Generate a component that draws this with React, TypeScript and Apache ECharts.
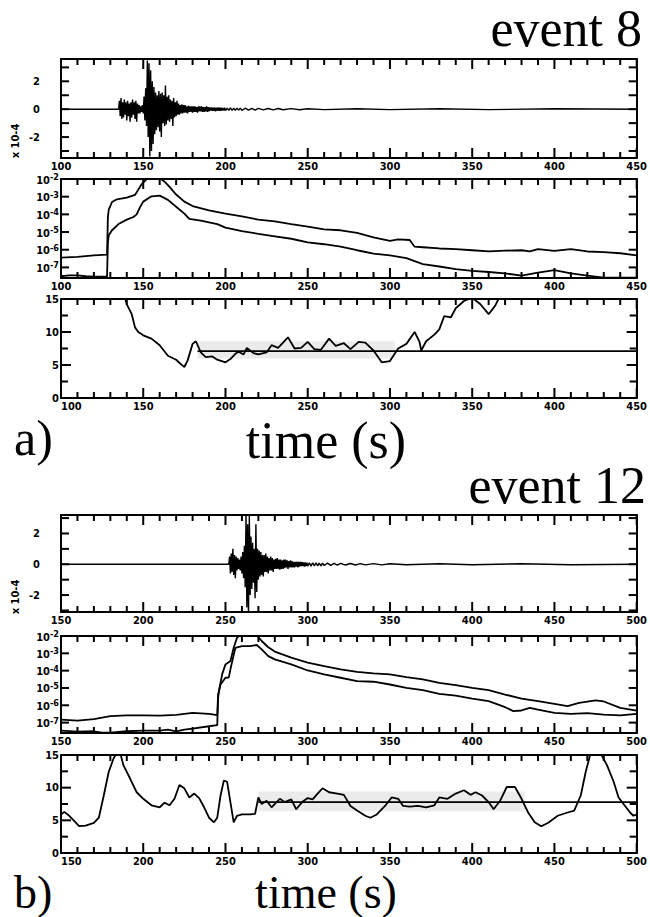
import React, { useEffect, useRef } from "react";
import * as echarts from "echarts";

// ---------- DATA ----------
// event 8: seismogram (time s, amplitude x1e-4)
const seisA: number[][] = [
  [100, 0], [135, 0], [135.5, 0.6], [136, -0.5], [136.5, 0.8], [137, -0.7], [137.5, 0.5], [138, -0.6], [138.5, 0.7], [139, -0.4],
  [139.5, 0.5], [140, -0.8], [140.5, 0.6], [141, -0.5], [141.5, 0.4], [142, -0.9], [142.5, 0.5], [143, -0.6], [143.5, 0.7], [144, -0.4],
  [144.5, 0.5], [145, -0.7], [145.5, 0.6], [146, -0.9], [146.5, 0.4], [147, -0.3], [147.5, 0.3], [148, -0.3], [148.5, 0.2], [149, -0.2],
  [149.5, 0.3], [150, -0.3], [150.5, 0.9], [151, -0.8], [151.5, 1.5], [152, -1.2], [152.5, 3.5], [153, -2.0], [153.5, 3.3], [154, -3.4],
  [154.5, 2.8], [155, -3.0], [155.5, 2.0], [156, -2.5], [156.5, 1.6], [157, -1.8], [157.5, 1.2], [158, -1.5], [158.5, 1.0], [159, -1.3],
  [159.5, 1.3], [160, -1.6], [160.5, 1.1], [161, -2.0], [161.5, 1.2], [162, -1.0], [162.5, 1.0], [163, -1.2], [163.5, 1.7], [164, -1.1],
  [164.5, 0.9], [165, -0.8], [165.5, 1.0], [166, -0.9], [166.5, 0.7], [167, -0.7], [167.5, 0.6], [168, -1.2], [168.5, 0.8], [169, -0.6],
  [169.5, 0.5], [170, -0.5], [170.5, 0.6], [171, -0.4], [171.5, 0.4], [172, -0.4], [172.5, 0.3], [173, -0.3], [173.5, 0.35], [174, -0.3],
  [174.5, 0.3], [175, -0.25], [175.5, 0.3], [176, -0.25], [176.5, 0.2], [177, -0.3], [177.5, 0.25], [178, -0.2], [178.5, 0.2], [179, -0.2],
  [179.5, 0.2], [180, -0.25], [180.5, 0.2], [181, -0.2], [181.5, 0.2], [182, -0.2], [182.5, 0.15], [183, -0.25], [183.5, 0.2], [184, -0.15],
  [184.5, 0.2], [185, -0.15], [185.5, 0.2], [186, -0.2], [186.5, 0.15], [187, -0.2], [187.5, 0.15], [188, -0.15], [188.5, 0.2], [189, -0.2],
  [189.5, 0.15], [190, -0.15], [190.5, 0.12], [191, -0.1], [191.5, 0.12], [192, -0.12], [192.5, 0.1], [193, -0.12], [193.5, 0.12], [194, -0.15],
  [194.5, 0.1], [195, -0.1], [195.5, 0.12], [196, -0.12], [196.5, 0.1], [197, -0.12], [197.5, 0.1], [198, -0.1], [198.5, 0.08], [199, -0.1],
  [199.5, 0.1], [200, -0.1], [201, 0.08], [202, -0.08], [203, 0.1], [204, -0.08], [205, 0.07], [206, -0.08], [207, 0.08], [208, -0.07],
  [209, 0.08], [210, -0.08], [212, 0.07], [214, -0.07], [216, 0.06], [218, -0.06], [220, 0.06], [223, -0.05], [226, 0.05], [229, -0.05],
  [232, 0.05], [235, -0.04], [240, 0.04], [245, -0.04], [250, 0.03], [260, -0.03], [280, 0.03], [300, -0.03], [330, 0.03], [360, -0.03],
  [400, 0.03], [450, 0],
];
// event 8: envelopes (time s, log10 value)
const envAUpper: number[][] = [
  [100, -6.45], [110, -6.4], [120, -6.32], [128, -6.28], [128.5, -4.2], [129, -3.75], [131, -3.3], [134, -3.15], [140, -3.05],
  [145, -2.9], [147, -2.6], [149, -2.3], [151, -2.1], [153, -1.95], [160, -1.95], [163, -2.15], [166, -2.45], [170, -2.88],
  [175, -3.28], [180, -3.53], [190, -3.77], [200, -3.96], [210, -4.12], [220, -4.3], [230, -4.4], [240, -4.55], [250, -4.69],
  [260, -4.85], [270, -4.9], [280, -5.05], [290, -5.3], [300, -5.5], [305, -5.42], [312, -5.45], [315, -5.83], [320, -5.86],
  [330, -5.93], [340, -5.97], [350, -6.03], [360, -6.09], [370, -6.05], [380, -6.03], [385, -6.1], [390, -5.97], [400, -6.06],
  [410, -5.97], [420, -6.1], [430, -6.14], [440, -6.2], [450, -6.32],
];
const envALower: number[][] = [
  [100, -7.5], [105, -7.45], [110, -7.45], [115, -7.5], [120, -7.52], [128, -7.52], [128.5, -5.6], [129, -5.2], [131, -4.9],
  [135, -4.55], [140, -4.3], [144, -4.15], [146, -4.0], [148, -3.6], [150, -3.28], [155, -2.98], [160, -2.94], [165, -3.18],
  [170, -3.57], [175, -3.96], [178, -4.26], [185, -4.36], [195, -4.55], [200, -4.75], [210, -4.95], [220, -5.1], [230, -5.24],
  [240, -5.38], [250, -5.58], [260, -5.69], [270, -5.83], [280, -6.03], [290, -6.22], [300, -6.32], [310, -6.48], [320, -6.81],
  [330, -6.95], [340, -7.1], [350, -7.2], [360, -7.26], [370, -7.34], [380, -7.46], [390, -7.3], [400, -7.15], [410, -7.34],
  [420, -7.46], [430, -7.58], [450, -7.58],
];
// event 8: lower panel curve
const curveA: number[][] = [
  [138, 16], [140, 14.2], [141, 13.7], [143, 12.7], [145, 10.7], [147, 10.0], [150, 9.5], [155, 9.0], [160, 8.0], [165, 6.4],
  [170, 5.8], [173, 5.1], [175, 4.7], [177, 5.7], [180, 8.2], [182, 8.6], [185, 6.9], [188, 6.2], [192, 6.3], [195, 5.8],
  [200, 5.4], [203, 5.9], [206, 6.7], [208, 7.0], [211, 6.6], [213, 7.6], [217, 6.8], [220, 6.6], [225, 6.9], [228, 8.0],
  [232, 7.6], [238, 9.2], [242, 7.5], [246, 7.6], [250, 8.5], [254, 7.4], [258, 7.3], [263, 9.0], [267, 7.9], [272, 8.3],
  [276, 7.4], [281, 8.5], [285, 8.4], [290, 7.2], [295, 5.4], [300, 5.6], [305, 7.5], [310, 8.2], [315, 10.0], [318, 8.5],
  [319, 7.2], [322, 8.6], [327, 9.6], [330, 10.4], [333, 12.4], [337, 12.2], [340, 13.6], [345, 14.7], [350, 15.2], [355, 14.2],
  [360, 12.7], [364, 14.0], [368, 16],
];
const refA: number[][] = [[183, 7.1], [450, 7.1]];
const bandAX = [183, 303];
const bandAY = [6.0, 8.6];

// event 12
const seisB: number[][] = [
  [150, 0], [252, 0], [252.5, 0.5], [253, -0.6], [253.5, 0.7], [254, -0.5], [254.5, 1.0], [255, -0.7], [255.5, 0.6], [256, -0.9],
  [256.5, 0.5], [257, -0.4], [257.5, 0.4], [258, -0.3], [258.5, 0.3], [259, -0.4], [259.5, 0.5], [260, -0.6], [260.5, 0.8], [261, -0.9],
  [261.5, 1.2], [262, -1.5], [262.5, 3.3], [263, -2.8], [263.5, 2.6], [264, -3.4], [264.5, 3.2], [265, -2.0], [265.5, 1.8], [266, -1.6],
  [266.5, 1.4], [267, -1.2], [267.5, 1.0], [268, -2.2], [268.5, 2.6], [269, -1.8], [269.5, 1.0], [270, -1.0], [270.5, 0.9], [271, -0.8],
  [271.5, 0.8], [272, -0.7], [272.5, 0.6], [273, -0.8], [273.5, 0.6], [274, -0.5], [274.5, 0.7], [275, -0.5], [275.5, 0.5], [276, -0.6],
  [276.5, 0.4], [277, -0.4], [277.5, 0.5], [278, -0.4], [278.5, 0.4], [279, -0.5], [279.5, 0.3], [280, -0.3], [280.5, 0.35], [281, -0.3],
  [281.5, 0.4], [282, -0.3], [282.5, 0.3], [283, -0.35], [283.5, 0.3], [284, -0.3], [284.5, 0.25], [285, -0.3], [285.5, 0.3], [286, -0.25],
  [286.5, 0.3], [287, -0.2], [287.5, 0.25], [288, -0.3], [288.5, 0.2], [289, -0.2], [289.5, 0.25], [290, -0.2], [290.5, 0.2], [291, -0.2],
  [291.5, 0.15], [292, -0.2], [292.5, 0.15], [293, -0.15], [293.5, 0.18], [294, -0.2], [294.5, 0.15], [295, -0.15], [295.5, 0.15], [296, -0.12],
  [296.5, 0.15], [297, -0.12], [297.5, 0.12], [298, -0.15], [298.5, 0.12], [299, -0.12], [299.5, 0.1], [300, -0.12], [301, 0.1], [302, -0.12],
  [303, 0.1], [304, -0.1], [305, 0.1], [306, -0.1], [307, 0.08], [308, -0.1], [309, 0.08], [310, -0.08], [312, 0.07], [314, -0.07],
  [316, 0.06], [318, -0.06], [320, 0.06], [323, -0.05], [326, 0.05], [329, -0.05], [332, 0.04], [335, -0.04], [340, 0.04], [345, -0.04],
  [350, 0.03], [360, -0.03], [380, 0.03], [400, -0.03], [430, 0.03], [460, -0.03], [500, 0],
];
const envBUpper: number[][] = [
  [150, -6.83], [160, -6.88], [170, -6.8], [180, -6.63], [190, -6.58], [200, -6.58], [210, -6.6], [220, -6.55], [230, -6.44],
  [240, -6.5], [245, -6.57], [245.5, -5.4], [246, -5.19], [248, -4.2], [250, -3.64], [253, -3.45], [255, -2.68], [257, -2.1],
  [259, -1.95], [269, -1.95], [272, -2.29], [276, -2.65], [280, -2.9], [290, -3.25], [300, -3.54], [310, -3.74], [320, -3.93],
  [330, -4.07], [340, -4.16], [350, -4.22], [360, -4.37], [370, -4.51], [380, -4.7], [390, -4.84], [400, -4.99], [410, -5.13],
  [420, -5.38], [430, -5.61], [440, -5.76], [450, -5.92], [458, -6.05], [465, -5.86], [475, -5.72], [480, -5.78], [490, -6.15],
  [500, -6.31],
];
const envBLower: number[][] = [
  [150, -7.46], [160, -7.52], [170, -7.5], [175, -7.58], [180, -7.58], [190, -7.5], [200, -7.46], [210, -7.46], [215, -7.4],
  [220, -7.5], [225, -7.4], [230, -7.35], [240, -7.21], [245, -7.15], [245.5, -5.6], [246, -5.19], [247, -4.8], [250, -4.41],
  [252, -4.4], [253, -3.93], [254, -3.5], [256, -2.68], [260, -2.58], [265, -2.58], [269, -2.52], [272, -2.77], [276, -3.16],
  [280, -3.35], [290, -3.64], [300, -3.99], [310, -4.22], [320, -4.41], [330, -4.61], [340, -4.64], [350, -4.8], [360, -4.99],
  [370, -5.13], [380, -5.34], [390, -5.44], [400, -5.61], [410, -5.76], [420, -6.11], [425, -6.34], [430, -6.3], [435, -6.15],
  [440, -6.25], [450, -6.44], [460, -6.5], [470, -6.45], [480, -6.54], [490, -6.58], [500, -6.5],
];
const curveB: number[][] = [
  [150, 5.9], [152, 6.3], [155, 5.7], [158, 4.9], [161, 4.1], [165, 4.2], [170, 4.6], [173, 5.4], [176, 8.8], [179, 12.4],
  [182, 14.5], [184, 15.3], [186, 15.3], [188, 13.4], [192, 11.4], [196, 9.3], [200, 8.3], [205, 7.3], [210, 7.0], [213, 7.7],
  [216, 7.3], [219, 8.3], [222, 10.4], [225, 9.9], [228, 8.5], [231, 9.1], [234, 8.4], [237, 7.0], [240, 5.4], [243, 4.7],
  [245, 5.4], [247, 8.8], [249, 11.1], [251, 10.9], [253, 7.8], [255, 4.7], [257, 5.7], [260, 5.9], [265, 5.9], [268, 6.0],
  [270, 8.5], [272, 7.5], [275, 8.0], [278, 7.0], [280, 7.5], [283, 8.3], [286, 7.8], [290, 8.2], [293, 6.7], [297, 7.9],
  [300, 8.4], [303, 8.2], [306, 9.1], [309, 9.9], [313, 9.3], [318, 9.1], [322, 8.9], [326, 7.2], [330, 6.5], [335, 5.7],
  [338, 5.4], [342, 5.9], [347, 7.2], [351, 8.5], [355, 8.3], [358, 7.2], [362, 7.1], [367, 7.2], [372, 7.0], [377, 7.3],
  [380, 8.5], [385, 8.3], [390, 9.1], [395, 9.6], [399, 8.9], [402, 9.3], [406, 8.8], [410, 7.8], [413, 6.7], [417, 8.0],
  [421, 10.1], [426, 10.1], [430, 8.3], [434, 6.2], [438, 4.7], [442, 4.1], [446, 4.6], [452, 5.7], [458, 6.2], [462, 6.5],
  [466, 8.8], [469, 12.4], [472, 15.3], [478, 15.3], [482, 13.4], [486, 10.9], [489, 8.5], [492, 7.5], [496, 6.2], [498, 5.7],
  [500, 5.9],
];
const refB: number[][] = [[270, 7.8], [500, 7.8]];
const bandBX = [270, 432];
const bandBY = [6.4, 9.4];

const xRangeA = [100, 450];
const xRangeB = [150, 500];
const seisTickLabels = [-2, 0, 2];

// tick positions (drawn through the axes' scales)
const xTicksA = [100, 110, 120, 130, 140, 150, 160, 170, 180, 190, 200, 210, 220, 230, 240, 250, 260, 270, 280, 290, 300,
  310, 320, 330, 340, 350, 360, 370, 380, 390, 400, 410, 420, 430, 440, 450];
const xTicksB = [150, 160, 170, 180, 190, 200, 210, 220, 230, 240, 250, 260, 270, 280, 290, 300, 310, 320, 330, 340, 350,
  360, 370, 380, 390, 400, 410, 420, 430, 440, 450, 460, 470, 480, 490, 500];
const yTicksSeis = [-3, -2, -1, 0, 1, 2, 3];
const yTicksLog = [-7, -6, -5, -4, -3, -2];
const yTicksLin = [0, 2.5, 5, 7.5, 10, 12.5, 15];

// ---------- STYLE ----------
const NUM_FONT = "Liberation Sans Narrow, DejaVu Sans Condensed, Liberation Sans, sans-serif";
const SERIF = "Liberation Serif, serif";

type Panel = { top: number; h: number; x: number[]; kind: "seis" | "log" | "lin"; y: number[]; xt: number[]; yt: number[] };
const LEFT = 61;
const WIDTH = 577;
const panels: Panel[] = [
  { top: 59, h: 99, x: xRangeA, kind: "seis", y: [-3.5, 3.6], xt: xTicksA, yt: yTicksSeis },
  { top: 179, h: 99, x: xRangeA, kind: "log", y: [-7.6, -2], xt: xTicksA, yt: yTicksLog },
  { top: 299, h: 99, x: xRangeA, kind: "lin", y: [0, 15], xt: xTicksA, yt: yTicksLin },
  { top: 515, h: 97, x: xRangeB, kind: "seis", y: [-3.1, 3.2], xt: xTicksB, yt: yTicksSeis },
  { top: 636, h: 97, x: xRangeB, kind: "log", y: [-7.6, -2], xt: xTicksB, yt: yTicksLog },
  { top: 755, h: 98, x: xRangeB, kind: "lin", y: [0, 15], xt: xTicksB, yt: yTicksLin },
];

const isInt = (v: number) => Math.abs(v - Math.round(v)) < 1e-6;
const AXIS_LINE = () => ({ show: true, onZero: false, lineStyle: { color: "#000", width: 2 } });

// tick marks as rectangular scatter symbols anchored on the box edges, shifted inward by half their length
function tickPoints(p: Panel): any[] {
  const out: any[] = [];
  for (const t of p.xt) {
    const len = t % 50 === 0 ? 10 : 6;
    out.push({ value: [t, p.y[0]], symbolSize: [2, len], symbolOffset: [0, -len / 2] });
    out.push({ value: [t, p.y[1]], symbolSize: [2, len], symbolOffset: [0, len / 2] });
  }
  for (const v of p.yt) {
    const len = p.kind === "lin" ? (v % 5 === 0 ? 10 : 7) : 8;
    out.push({ value: [p.x[0], v], symbolSize: [len, 2], symbolOffset: [len / 2, 0] });
    out.push({ value: [p.x[1], v], symbolSize: [len, 2], symbolOffset: [-len / 2, 0] });
  }
  return out;
}

function buildOption() {
  const grid: any[] = [];
  const xAxis: any[] = [];
  const yAxis: any[] = [];
  panels.forEach((p, gi) => {
    grid.push({ left: LEFT, width: WIDTH, top: p.top, height: p.h, show: false });
    const xc = () => ({
      type: "value", gridIndex: gi, min: p.x[0], max: p.x[1], interval: 50,
      axisLine: AXIS_LINE(), splitLine: { show: false }, axisTick: { show: false }, minorTick: { show: false },
    });
    xAxis.push({
      ...xc(), position: "bottom",
      axisLabel: {
        show: true, margin: 3, color: "#000", fontFamily: NUM_FONT, fontWeight: "bold", fontSize: 11,
        showMinLabel: true, showMaxLabel: true, alignMinLabel: p.kind === "lin" ? "left" : "center",
      },
    });
    xAxis.push({ ...xc(), position: "top", axisLabel: { show: false } });

    const yc = () => {
      const o: any = {
        type: "value", gridIndex: gi, min: p.y[0], max: p.y[1],
        axisLine: AXIS_LINE(), splitLine: { show: false }, axisTick: { show: false }, minorTick: { show: false },
      };
      if (p.kind === "lin") o.interval = 5;
      return o;
    };
    let label: any;
    if (p.kind === "seis") {
      label = {
        show: true, margin: 21, color: "#000", fontFamily: NUM_FONT, fontWeight: "bold", fontSize: 11,
        formatter: (v: number) => (isInt(v) && seisTickLabels.includes(Math.round(v)) ? String(Math.round(v)) : ""),
      };
    } else if (p.kind === "log") {
      label = {
        show: true, margin: 2, color: "#000", showMaxLabel: true, showMinLabel: false, hideOverlap: false,
        formatter: (v: number) => (isInt(v) ? `{b|10}{s|${Math.round(v)}}` : ""),
        rich: {
          b: { fontFamily: NUM_FONT, fontWeight: "bold", fontSize: 11, color: "#000", verticalAlign: "bottom", lineHeight: 13 },
          s: { fontFamily: NUM_FONT, fontWeight: "bold", fontSize: 9, color: "#000", verticalAlign: "top", lineHeight: 13 },
        },
      };
    } else {
      label = { show: true, margin: 2, color: "#000", fontFamily: NUM_FONT, fontWeight: "bold", fontSize: 11, showMinLabel: true, showMaxLabel: true };
    }
    yAxis.push({ ...yc(), position: "left", axisLabel: label });
    yAxis.push({ ...yc(), position: "right", axisLabel: { show: false } });
  });

  const line = (gi: number, data: any[], width: number, extra: any = {}) => ({
    type: "line", xAxisIndex: gi * 2, yAxisIndex: gi * 2, data, showSymbol: false, symbol: "none",
    lineStyle: { color: "#000", width }, clip: true, silent: true, ...extra,
  });
  const band = (bx: number[], by: number[]) => ({
    silent: true,
    itemStyle: { color: "rgba(0,0,0,0.08)" },
    data: [[{ xAxis: bx[0], yAxis: by[0] }, { xAxis: bx[1], yAxis: by[1] }]],
  });
  const ticks = (gi: number, p: Panel) => ({
    type: "scatter", xAxisIndex: gi * 2, yAxisIndex: gi * 2, silent: true, clip: false, z: 10,
    symbol: "rect", itemStyle: { color: "#000", opacity: 1 }, data: tickPoints(p),
  });

  const series: any[] = [
    line(0, seisA, 1.4),
    line(1, envAUpper, 1.8),
    line(1, envALower, 1.8),
    line(2, refA, 1.8, { markArea: band(bandAX, bandAY) }),
    line(2, curveA, 1.8),
    line(3, seisB, 1.4),
    line(4, envBUpper, 1.8),
    line(4, envBLower, 1.8),
    line(5, refB, 1.8, { markArea: band(bandBX, bandBY) }),
    line(5, curveB, 1.8),
  ];
  panels.forEach((p, gi) => series.push(ticks(gi, p)));

  const bigText = (text: string, x: number, y: number, align: string, size: number) => ({
    type: "text", x, y, silent: true,
    style: {
      text, fontSize: size, fontFamily: SERIF, fill: "#000",
      align, verticalAlign: "top", textAlign: align, textVerticalAlign: "top",
    },
  });
  const rotText = (text: string, x: number, y: number) => ({
    type: "text", x, y, rotation: Math.PI / 2, silent: true,
    style: {
      text, fontSize: 11, fontWeight: "bold", fontFamily: NUM_FONT, fill: "#000",
      align: "center", verticalAlign: "middle", textAlign: "center", textVerticalAlign: "middle",
    },
  });

  const graphic = [
    bigText("event 8", 642, 2, "right", 52),
    bigText("a)", 14, 413, "left", 50),
    bigText("time (s)", 326, 414, "center", 52),
    bigText("event 12", 646, 459, "right", 52),
    bigText("b)", 14, 869, "left", 46),
    bigText("time (s)", 326, 869, "center", 46),
    rotText("x 10-4", 15, 141),
    rotText("x 10-4", 15, 597),
  ];

  return { animation: false, backgroundColor: "#fff", grid, xAxis, yAxis, series, graphic };
}

export default function App() {
  const ref = useRef<HTMLDivElement>(null);
  useEffect(() => {
    if (!ref.current) return;
    const chart = echarts.init(ref.current, null, { renderer: "svg" });
    chart.setOption(buildOption() as any);
    return () => chart.dispose();
  }, []);
  return <div ref={ref} style={{ position: "fixed", left: 0, top: 0, width: 650, height: 917, background: "#fff" }} />;
}
